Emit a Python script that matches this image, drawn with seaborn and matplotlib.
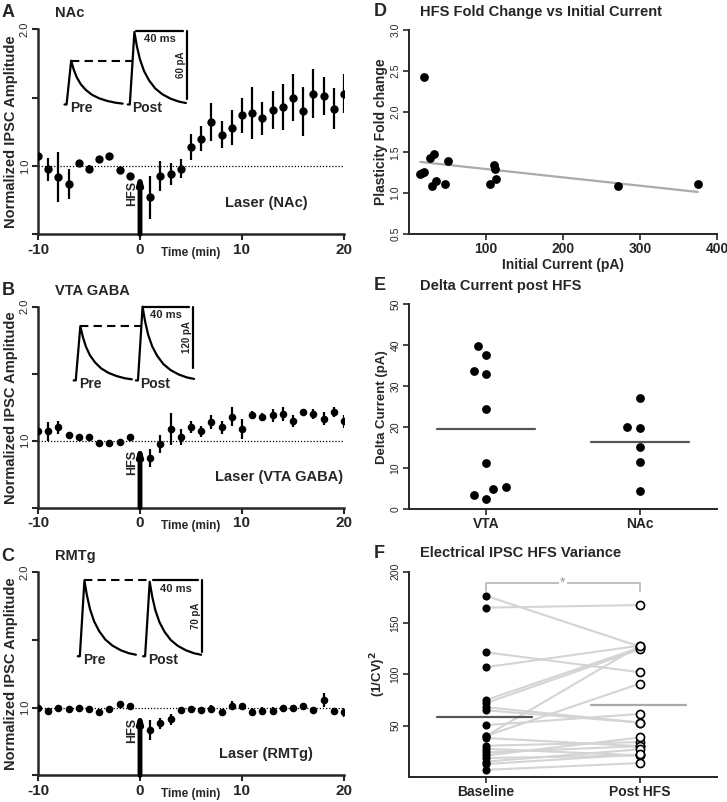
import numpy as np
import pandas as pd
import matplotlib
matplotlib.use('Agg')
import matplotlib.pyplot as plt
import seaborn as sns

# ---------------- data ----------------
time_min = [-10, -9, -8, -7, -6, -5, -4, -3, -2, -1,
            1, 2, 3, 4, 5, 6, 7, 8, 9, 10,
            11, 12, 13, 14, 15, 16, 17, 18, 19, 20]

nac_amp = [1.07, 0.975, 0.92, 0.87, 1.02, 0.98, 1.05, 1.07, 0.97, 0.93,
           0.77, 0.93, 0.94, 0.98, 1.14, 1.20, 1.32, 1.23, 1.28, 1.37,
           1.39, 1.35, 1.41, 1.43, 1.50, 1.40, 1.53, 1.51, 1.42, 1.53]
nac_err = [0.0, 0.085, 0.18, 0.11, 0.02, 0.03, 0.0, 0.0, 0.0, 0.0,
           0.155, 0.11, 0.08, 0.07, 0.095, 0.09, 0.14, 0.10, 0.13, 0.13,
           0.19, 0.12, 0.14, 0.17, 0.17, 0.18, 0.18, 0.14, 0.15, 0.14]

vta_amp = [1.07, 1.07, 1.10, 1.04, 1.03, 1.025, 0.985, 0.98, 0.99, 1.03,
           0.87, 0.975, 1.085, 1.03, 1.10, 1.07, 1.14, 1.10, 1.18, 1.085,
           1.19, 1.18, 1.19, 1.20, 1.145, 1.215, 1.20, 1.165, 1.215, 1.145]
vta_err = [0.0, 0.07, 0.05, 0.0, 0.0, 0.0, 0.0, 0.0, 0.0, 0.0,
           0.065, 0.065, 0.12, 0.06, 0.045, 0.04, 0.055, 0.05, 0.07, 0.075,
           0.03, 0.03, 0.05, 0.055, 0.045, 0.025, 0.035, 0.05, 0.035, 0.05]

rmtg_amp = [1.0, 0.975, 1.0, 0.99, 1.0, 0.99, 0.965, 0.99, 1.03, 1.015,
            0.835, 0.885, 0.915, 0.98, 0.99, 0.98, 0.99, 0.97, 1.015, 1.015,
            0.97, 0.975, 0.975, 1.0, 1.0, 1.01, 0.98, 1.055, 0.975, 0.965]
rmtg_err = [0.0, 0.0, 0.0, 0.0, 0.0, 0.0, 0.0, 0.0, 0.0, 0.0,
            0.075, 0.04, 0.04, 0.0, 0.0, 0.0, 0.03, 0.0, 0.035, 0.0,
            0.03, 0.03, 0.03, 0.0, 0.0, 0.025, 0.0, 0.05, 0.025, 0.03]

# panel D
init_current = [14.7, 16.9, 19, 20, 27.7, 32, 29.9, 35.5, 47, 50,
                105, 111, 112, 112.5, 271, 375]
fold_change = [1.235, 1.25, 1.26, 2.42, 1.435, 1.48, 1.09, 1.15, 1.11, 1.40,
               1.11, 1.345, 1.30, 1.18, 1.09, 1.11]

# panel E
delta_groups = ['VTA', 'NAc']
delta_vta = [37.6, 39.9, 33.7, 32.9, 24.4, 11.3, 4.9, 2.4, 3.3, 5.3]
delta_nac = [27.0, 19.95, 19.8, 15.1, 11.6, 4.4]

# panel F (paired)
var_groups = ['Baseline', 'Post HFS']
cv_baseline = [176.5, 165, 121.5, 107, 75, 72, 68, 65, 50.5, 40,
               40, 38, 30.5, 27.5, 24, 21, 18.5, 15, 12.6, 7]
cv_post = [127, 167.5, 102, 128, 126, 124.5, 53, 53, 61.5, 91,
           128, 30, 34, 21, 30, 38.5, 21, 27, 22, 13.6]

# example trace shape (normalised, minutes from trace start)
trace_t = [0, 0.2, 0.45, 0.65, 0.9, 1.2, 1.6, 2.1, 2.7, 3.4, 4.2, 5.0, 5.7]
trace_f = [0, 0, 0.55, 1.0, 0.80, 0.62, 0.46, 0.33, 0.22, 0.14, 0.08, 0.04, 0.02]

# ---------------- style ----------------
sns.set_style('ticks')
plt.rcParams['font.family'] = ['Liberation Sans', 'DejaVu Sans']
plt.rcParams['font.weight'] = 'bold'
plt.rcParams['axes.labelweight'] = 'bold'

fig = plt.figure(figsize=(7.27, 8.02), dpi=100)

def rect(left, top, right, bottom):
    return [left / 727, 1 - bottom / 802, (right - left) / 727, (bottom - top) / 802]

axA = fig.add_axes(rect(38, 29.3, 344, 234.3))
axB = fig.add_axes(rect(38, 306.7, 344, 507.7))
axC = fig.add_axes(rect(38, 572.3, 344, 775.4))
axD = fig.add_axes(rect(409, 30, 717, 234))
axE = fig.add_axes(rect(409, 304.3, 717, 509))
axF = fig.add_axes(rect(409, 571.7, 717, 777))


def time_panel(ax, amp, err, msize, title, letter, laser_txt, laser_xy, hfs_tip, hfs_y,
               tr, bar, lbl):
    df = pd.DataFrame({'t': time_min, 'amp': amp, 'err': err})
    ax.axhline(1.0, xmin=0, xmax=1, color='black', lw=0.9, ls=(0, (1, 1.5)))
    ax.errorbar(df['t'], df['amp'], yerr=df['err'], fmt='none', ecolor='black',
                elinewidth=1.6, capsize=0, zorder=2)
    sns.scatterplot(data=df, x='t', y='amp', ax=ax, color='black', s=msize,
                    edgecolor='black', linewidth=0, zorder=3)
    ax.set_xlim(-10, 20)
    ax.set_ylim(0.5, 2.0)
    ax.set_xticks([-10, 0, 10, 20])
    ax.set_xticklabels(['-10', '0', '10', '20'], fontsize=11, fontweight='bold')
    ax.set_yticks([0.5, 1.0, 1.5, 2.0])
    ax.set_yticklabels(['', '1.0', '', '2.0'], fontsize=8, fontweight='normal',
                       rotation=90, va='center')
    ax.set_xlabel('')
    ax.set_ylabel('Normalized IPSC Amplitude', fontsize=10.5, fontweight='bold', labelpad=1)
    ax.text(5, -0.09, 'Time (min)', transform=ax.get_xaxis_transform(),
            ha='center', va='center', fontsize=8.5, fontweight='bold')
    for s in ['left', 'bottom']:
        ax.spines[s].set_linewidth(1.8)
    sns.despine(ax=ax)
    ax.tick_params(width=1.5, length=4, pad=2)
    ax.patch.set_alpha(0)
    # HFS arrow
    ax.annotate('', xy=(0, hfs_tip), xytext=(0, 0.5),
                arrowprops=dict(arrowstyle='-|>,head_length=0.45,head_width=0.13',
                                lw=3.5, color='black', shrinkA=0, shrinkB=0))
    ax.text(-0.8, hfs_y, 'HFS', rotation=90, ha='center', va='center',
            fontsize=9, fontweight='bold')
    ax.text(laser_xy[0], laser_xy[1], laser_txt, ha='center', va='center',
            fontsize=10.5, fontweight='bold')
    # example traces
    pre_start, post_start, base, pre_peak, post_peak = tr
    tt = np.array(trace_t)
    ff = np.array(trace_f)
    ax.plot(pre_start + tt, base + ff * (pre_peak - base), color='black', lw=1.6, clip_on=False)
    ax.plot(post_start + tt, base + ff * (post_peak - base), color='black', lw=1.6, clip_on=False)
    ax.plot([pre_start + 0.65, post_start + 0.55], [pre_peak, pre_peak], color='black',
            lw=1.5, ls=(0, (4, 2.5)), clip_on=False)
    hx0, hx1, hy, vy0 = bar
    ax.plot([hx0, hx1], [hy, hy], color='black', lw=1.6, clip_on=False)
    ax.plot([hx1 + 0.4, hx1 + 0.4], [hy, vy0], color='black', lw=1.6, clip_on=False)
    ax.text((hx0 + hx1) / 2, hy - 0.06, '40 ms', ha='center', va='center',
            fontsize=8, fontweight='bold')
    ax.text(hx1 - 0.2, (hy + vy0) / 2, lbl, rotation=90, ha='center', va='center',
            fontsize=7, fontweight='bold')
    ax.text(pre_start + 0.55, base - 0.025, 'Pre', ha='left', va='center',
            fontsize=10, fontweight='bold')
    ax.text(post_start + 0.45, base - 0.025, 'Post', ha='left', va='center',
            fontsize=10, fontweight='bold')
    ax.text(-0.12, 1.08, letter, transform=ax.transAxes, fontsize=13,
            fontweight='bold', ha='left', va='center')
    ax.text(0.055, 1.08, title, transform=ax.transAxes, fontsize=10.5,
            fontweight='bold', ha='left', va='center')


time_panel(axA, nac_amp, nac_err, 36, 'NAc', 'A', 'Laser (NAc)', (12.4, 0.73), 0.95, 0.8,
           (-7.4, -1.2, 1.45, 1.77, 1.98), (-0.35, 4.2, 1.99, 1.49), '60 pA')
time_panel(axB, vta_amp, vta_err, 30, 'VTA GABA', 'B', 'Laser (VTA GABA)', (13.6, 0.73), 0.97, 0.84,
           (-6.5, -0.4, 1.45, 1.855, 2.0), (0.3, 4.8, 2.0, 1.54), '120 pA')
time_panel(axC, rmtg_amp, rmtg_err, 30, 'RMTg', 'C', 'Laser (RMTg)', (12.3, 0.66), 0.97, 0.835,
           (-6.1, 0.3, 1.38, 1.94, 1.93), (1.3, 5.7, 1.94, 1.41), '70 pA')


def small_axes(ax, title, letter):
    sns.despine(ax=ax)
    for s in ['left', 'bottom']:
        ax.spines[s].set_linewidth(1.4)
    ax.tick_params(width=1.2, length=4, pad=2)
    for t in ax.get_yticklabels():
        t.set_rotation(90)
        t.set_va('center')
        t.set_fontsize(7.5)
        t.set_fontweight('normal')
    for t in ax.get_xticklabels():
        t.set_fontsize(10)
        t.set_fontweight('bold')
    ax.text(-0.115, 1.09, letter, transform=ax.transAxes, fontsize=13,
            fontweight='bold', ha='left', va='center')
    ax.text(0.035, 1.09, title, transform=ax.transAxes, fontsize=10.5,
            fontweight='bold', ha='left', va='center')
    ax.patch.set_alpha(0)


# ---------------- D ----------------
dfD = pd.DataFrame({'cur': init_current, 'fold': fold_change})
sns.regplot(data=dfD, x='cur', y='fold', ax=axD, ci=None, scatter=False,
            line_kws=dict(color='#aaaaaa', lw=1.6))
sns.scatterplot(data=dfD, x='cur', y='fold', ax=axD, color='black', s=40,
                linewidth=0, zorder=3)
axD.set_xlim(0, 400)
axD.set_ylim(0.5, 3.0)
axD.set_xticks([100, 200, 300, 400])
axD.set_yticks([0.5, 1.0, 1.5, 2.0, 2.5, 3.0])
axD.set_xlabel('Initial Current (pA)', fontsize=10, fontweight='bold', labelpad=1)
axD.set_ylabel('Plasticity Fold change', fontsize=10, fontweight='bold', labelpad=2)
small_axes(axD, 'HFS Fold Change vs Initial Current', 'D')

# ---------------- E ----------------
dfE = pd.DataFrame({'group': ['VTA'] * len(delta_vta) + ['NAc'] * len(delta_nac),
                    'delta': delta_vta + delta_nac})
axE.set_ylim(0, 50)
# lay the swarm out with a wider spacing, then redraw the dots a bit smaller
sns.swarmplot(data=dfE, x='group', y='delta', order=delta_groups, ax=axE,
              color='black', size=8.8, linewidth=0)
fig.canvas.draw()
swarm_xy = np.vstack([c.get_offsets() for c in axE.collections])
for c in list(axE.collections):
    c.remove()
sns.scatterplot(x=swarm_xy[:, 0], y=swarm_xy[:, 1], ax=axE, color='black', s=40,
                linewidth=0, zorder=3)
for i, g in enumerate(delta_groups):
    m = dfE.loc[dfE['group'] == g, 'delta'].mean()
    axE.plot([i - 0.32, i + 0.32], [m, m], color='#555555', lw=1.6, zorder=1)
axE.set_xlim(-0.5, 1.5)
axE.set_ylim(0, 50)
axE.set_xticks([0, 1])
axE.set_xticklabels(delta_groups)
axE.set_yticks([0, 10, 20, 30, 40, 50])
axE.set_xlabel('')
axE.set_ylabel('Delta Current (pA)', fontsize=9.5, fontweight='bold', labelpad=2)
small_axes(axE, 'Delta Current post HFS', 'E')

# ---------------- F ----------------
n = len(cv_baseline)
dfF = pd.DataFrame({'pair': list(range(n)) * 2,
                    'pos': [0] * n + [1] * n,
                    'cond': [var_groups[0]] * n + [var_groups[1]] * n,
                    'cv': cv_baseline + cv_post})
sns.lineplot(data=dfF, x='pos', y='cv', units='pair', estimator=None, ax=axF,
             color='#d4d4d4', lw=1.5, zorder=1)
sns.scatterplot(data=dfF[dfF['pos'] == 0], x='pos', y='cv', ax=axF, color='black',
                s=34, linewidth=0, zorder=3)
sns.scatterplot(data=dfF[dfF['pos'] == 1], x='pos', y='cv', ax=axF, facecolor='white',
                edgecolor='black', s=34, linewidth=1.2, zorder=3)
mcol = ['#555555', '#a8a8a8']
for i, g in enumerate(var_groups):
    m = dfF.loc[dfF['cond'] == g, 'cv'].mean()
    axF.plot([i - 0.32, i + 0.3], [m, m], color=mcol[i], lw=1.6, zorder=2)
axF.plot([0, 0, 1, 1], [181.5, 189, 189, 181.5], color='#bbbbbb', lw=1.3, clip_on=False)
axF.text(0.5, 189, '*', ha='center', va='center', color='#999999', fontsize=10,
         fontweight='normal', bbox=dict(facecolor='white', edgecolor='none', pad=1))
axF.set_xlim(-0.5, 1.5)
axF.set_ylim(0, 200)
axF.set_xticks([0, 1])
axF.set_xticklabels(var_groups)
axF.set_yticks([50, 100, 150, 200])
axF.set_xlabel('')
axF.set_ylabel('(1/CV)$^2$', fontsize=9.5, fontweight='bold', labelpad=2)
small_axes(axF, 'Electrical IPSC HFS Variance', 'F')

fig.savefig('out.png', dpi=100)
